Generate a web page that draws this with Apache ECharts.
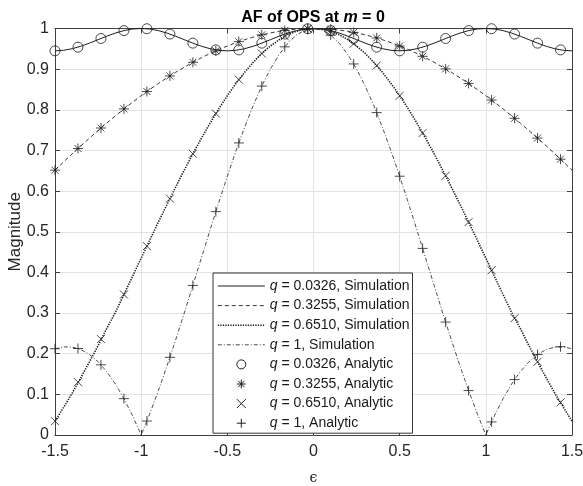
<!DOCTYPE html>
<html><head><meta charset="utf-8">
<script src="https://cdn.jsdelivr.net/npm/echarts/dist/echarts.min.js"></script>
<style>html,body{margin:0;padding:0;background:#fff}#c{width:583px;height:486px}</style>
</head><body><div id="c"></div>
<script>
// ---- data ----
const xTicks = [-1.5, -1, -0.5, 0, 0.5, 1, 1.5];
const yTicks = [0, 0.1, 0.2, 0.3, 0.4, 0.5, 0.6, 0.7, 0.8, 0.9, 1];

const epsLine = [-1.5,-1.45,-1.4,-1.35,-1.3,-1.25,-1.2,-1.15,-1.1,-1.05,-1,-0.95,-0.9,-0.85,-0.8,-0.75,-0.7,-0.65,-0.6,-0.55,-0.5,-0.45,-0.4,-0.35,-0.3,-0.25,-0.2,-0.15,-0.1,-0.05,0,0.05,0.1,0.15,0.2,0.25,0.3,0.35,0.4,0.45,0.5,0.55,0.6,0.65,0.7,0.75,0.8,0.85,0.9,0.95,1,1.05,1.1,1.15,1.2,1.25,1.3,1.35,1.4,1.45,1.5];

const simQ0326 = [0.9450,0.9464,0.9503,0.9563,0.9640,0.9725,0.9810,0.9887,0.9948,0.9987,1,0.9987,0.9948,0.9887,0.9810,0.9725,0.9640,0.9563,0.9503,0.9464,0.9450,0.9464,0.9503,0.9563,0.9640,0.9725,0.9810,0.9887,0.9948,0.9987,1,0.9987,0.9948,0.9887,0.9810,0.9725,0.9640,0.9563,0.9503,0.9464,0.9450,0.9464,0.9503,0.9563,0.9640,0.9725,0.9810,0.9887,0.9948,0.9987,1,0.9987,0.9948,0.9887,0.9810,0.9725,0.9640,0.9563,0.9503,0.9464,0.9450];
const simQ3255 = [0.6515,0.6718,0.6918,0.7113,0.7304,0.7490,0.7673,0.7849,0.8023,0.8184,0.8347,0.8499,0.8648,0.8789,0.8922,0.9048,0.9168,0.9281,0.9385,0.9482,0.9570,0.9651,0.9724,0.9788,0.9844,0.9891,0.9931,0.9961,0.9983,0.9996,1,0.9996,0.9983,0.9961,0.9931,0.9891,0.9844,0.9788,0.9724,0.9651,0.9570,0.9482,0.9385,0.9281,0.9168,0.9048,0.8922,0.8789,0.8648,0.8499,0.8347,0.8184,0.8023,0.7849,0.7673,0.7490,0.7304,0.7113,0.6918,0.6718,0.6515];
const simQ6510 = [0.0340,0.0680,0.1030,0.1410,0.1800,0.2200,0.2620,0.3014,0.3457,0.3903,0.4351,0.4797,0.5238,0.5672,0.6099,0.6515,0.6918,0.7304,0.7673,0.8023,0.8347,0.8648,0.8922,0.9168,0.9385,0.9570,0.9724,0.9844,0.9931,0.9983,1,0.9983,0.9931,0.9844,0.9724,0.9570,0.9385,0.9168,0.8922,0.8648,0.8347,0.8023,0.7673,0.7304,0.6918,0.6515,0.6099,0.5672,0.5238,0.4797,0.4351,0.3903,0.3457,0.3014,0.2620,0.2200,0.1800,0.1410,0.1030,0.0680,0.0340];
const simQ1 = [0.2122,0.2168,0.2162,0.2101,0.1981,0.1801,0.1559,0.1257,0.0894,0.0474,0,0.0524,0.1093,0.1700,0.2339,0.3001,0.3679,0.4363,0.5046,0.5716,0.6366,0.6987,0.7568,0.8103,0.8584,0.9003,0.9355,0.9634,0.9836,0.9959,1,0.9959,0.9836,0.9634,0.9355,0.9003,0.8584,0.8103,0.7568,0.6987,0.6366,0.5716,0.5046,0.4363,0.3679,0.3001,0.2339,0.1700,0.1093,0.0524,0,0.0474,0.0894,0.1257,0.1559,0.1801,0.1981,0.2101,0.2162,0.2168,0.2122];

const epsMarker = [-1.5,-1.3667,-1.2333,-1.1,-0.9667,-0.8333,-0.7,-0.5667,-0.4333,-0.3,-0.1667,-0.0333,0.1,0.2333,0.3667,0.5,0.6333,0.7667,0.9,1.0333,1.1667,1.3,1.4333];
const anaQ0326 = [0.945,0.9541,0.9754,0.9948,0.9994,0.9863,0.964,0.9474,0.9474,0.964,0.9863,0.9994,0.9948,0.9754,0.9541,0.945,0.9541,0.9754,0.9948,0.9994,0.9863,0.964,0.9474];
const anaQ3255 = [0.6515,0.7048,0.7552,0.8023,0.8449,0.8833,0.9168,0.9450,0.9676,0.9844,0.9952,0.9998,0.9983,0.9905,0.9767,0.9570,0.9316,0.9007,0.8648,0.8240,0.7791,0.7304,0.6785];
const anaQ6510 = [0.034,0.130,0.236,0.3457,0.4647,0.5815,0.6918,0.7907,0.8742,0.9385,0.9808,0.9992,0.9931,0.9625,0.9089,0.8347,0.7429,0.6378,0.5238,0.4052,0.2874,0.180,0.080];
const anaQ1 = [0.2122,0.2128,0.1727,0.0894,0.0344,0.1910,0.3679,0.5495,0.7185,0.8584,0.9549,0.9982,0.9836,0.9128,0.7931,0.6366,0.4591,0.2778,0.1093,0.0322,0.1364,0.1981,0.2172];

const simNames = ['q = 0.0326, Simulation','q = 0.3255, Simulation','q = 0.6510, Simulation','q = 1, Simulation'];
const anaNames = ['q = 0.0326, Analytic','q = 0.3255, Analytic','q = 0.6510, Analytic','q = 1, Analytic'];

// ---- styling ----
const FONT = '"Liberation Sans", Arial, Helvetica, sans-serif';
const INK = '#1e1e1e';
const AX = '#404040';
const zip = (xs, ys) => xs.map((x, i) => [x, ys[i]]);

const simStyles = [
  {type: 'solid', width: 1},
  {type: [4, 3], width: 0.9},
  {type: [1.3, 1.2], width: 1.6},
  {type: [4, 2, 1, 2], width: 0.8}
];
const anaSymbols = [
  {symbol: 'circle', size: 10},
  {symbol: 'path://M5,0L5,10M0,5L10,5M1.5,1.5L8.5,8.5M1.5,8.5L8.5,1.5', size: 10},
  {symbol: 'path://M0,0L10,10M0,10L10,0', size: 8},
  {symbol: 'path://M5,0L5,10M0,5L10,5', size: 10}
];
const simData = [simQ0326, simQ3255, simQ6510, simQ1];
const anaData = [anaQ0326, anaQ3255, anaQ6510, anaQ1];

const series = [];
simData.forEach((d, i) => {
  series.push({
    name: simNames[i], type: 'line', data: zip(epsLine, d),
    symbol: 'circle', symbolSize: 0, showSymbol: false, silent: true,
    color: INK,
    lineStyle: {color: INK, width: simStyles[i].width, type: simStyles[i].type},
    itemStyle: {color: INK}, z: 2
  });
});
anaData.forEach((d, i) => {
  series.push({
    name: anaNames[i], type: 'scatter', data: zip(epsMarker, d),
    symbol: anaSymbols[i].symbol, symbolSize: anaSymbols[i].size, silent: true,
    color: INK,
    itemStyle: {color: 'rgba(0,0,0,0)', borderColor: INK, borderWidth: 1},
    z: 3
  });
});

const legendData = simNames.map((n, i) => ({
    name: n, itemStyle: {opacity: 0},
    lineStyle: {color: INK, width: simStyles[i].width, type: simStyles[i].type, opacity: 1}
  }))
  .concat(anaNames.map(n => ({name: n, itemStyle: {color: 'rgba(0,0,0,0)', borderColor: INK, borderWidth: 1, opacity: 1}})));

const axisCommon = {
  type: 'value',
  axisLine: {show: true, onZero: false, lineStyle: {color: AX, width: 1}},
  axisTick: {show: true, inside: true, length: 5, lineStyle: {color: AX}},
  minorTick: {show: false},
  splitLine: {show: false}
};

const option = {
  animation: false,
  backgroundColor: '#fff',
  grid: {left: 55, right: 11, top: 28.5, bottom: 51, containLabel: false, outerBoundsMode: 'none'},
  xAxis: [
    Object.assign({}, axisCommon, {
      position: 'bottom', min: xTicks[0], max: xTicks[xTicks.length - 1], interval: 0.5,
      splitLine: {show: true, lineStyle: {color: '#e3e3e3', width: 1}},
      axisLabel: {show: true, margin: 9, color: '#262626', fontFamily: FONT, fontSize: 16},
      name: 'ϵ', nameLocation: 'middle', nameGap: 36, nameMoveOverlap: false,
      nameTextStyle: {color: '#262626', fontFamily: '"DejaVu Serif", "Liberation Serif", serif', fontSize: 14}
    }),
    Object.assign({}, axisCommon, {
      position: 'top', min: xTicks[0], max: xTicks[xTicks.length - 1], interval: 0.5,
      axisLabel: {show: false}
    })
  ],
  yAxis: [
    Object.assign({}, axisCommon, {
      position: 'left', min: yTicks[0], max: yTicks[yTicks.length - 1], interval: 0.1,
      splitLine: {show: true, lineStyle: {color: '#e3e3e3', width: 1}},
      axisLabel: {show: true, margin: 6, color: '#262626', fontFamily: FONT, fontSize: 16},
      name: 'Magnitude', nameLocation: 'middle', nameGap: 31, nameMoveOverlap: false,
      nameTextStyle: {color: '#262626', fontFamily: FONT, fontSize: 17}
    }),
    Object.assign({}, axisCommon, {
      position: 'right', min: yTicks[0], max: yTicks[yTicks.length - 1], interval: 0.1,
      axisLabel: {show: false}
    })
  ],
  legend: {
    data: legendData,
    orient: 'vertical', left: 213, top: 273,
    padding: [6, 3, 3, 4],
    itemWidth: 47, itemHeight: 9, itemGap: 5.6,
    backgroundColor: '#fff', borderColor: '#333', borderWidth: 1, borderRadius: 0,
    selectedMode: false,
    formatter: name => '{i|q}{t|' + name.slice(1) + '}',
    textStyle: {
      color: '#1a1a1a', fontFamily: FONT, fontSize: 14, lineHeight: 14,
      rich: {
        i: {fontStyle: 'italic', fontFamily: FONT, fontSize: 14, color: '#1a1a1a'},
        t: {fontFamily: FONT, fontSize: 14, color: '#1a1a1a'}
      }
    },
    z: 10
  },
  graphic: [{
    type: 'text', x: 313, y: 18, z: 10,
    style: {
      text: '{b|AF of OPS at }{bi|m}{b| = 0}',
      align: 'center', verticalAlign: 'middle',
      rich: {
        b: {fontWeight: 'bold', fontSize: 16, fontFamily: FONT, fill: '#000', color: '#000'},
        bi: {fontWeight: 'bold', fontStyle: 'italic', fontSize: 16, fontFamily: FONT, fill: '#000', color: '#000'}
      }
    }
  }],
  series: series
};

const chart = echarts.init(document.getElementById('c'), null, {renderer: 'canvas'});
chart.setOption(option);
</script>
</body></html>
